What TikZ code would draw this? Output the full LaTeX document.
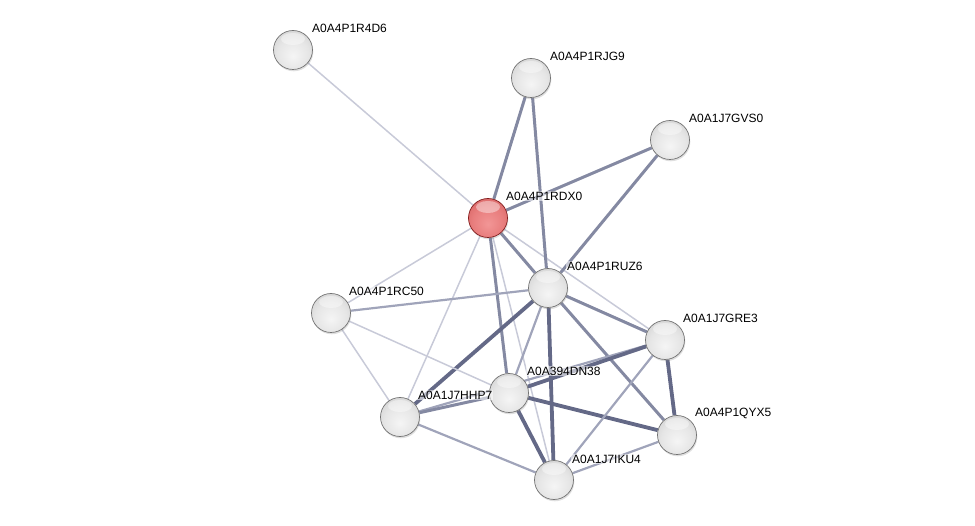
\documentclass[tikz,border=0pt]{standalone}
\usepackage{fontspec}
\setmainfont{Liberation Sans}
\usetikzlibrary{shadows,backgrounds}
\definecolor{rA}{RGB}{242,150,150}
\definecolor{rB}{RGB}{232,125,125}
\definecolor{rC}{RGB}{215,100,100}
\definecolor{rD}{RGB}{200,85,85}
\definecolor{rE}{RGB}{175,60,60}
\definecolor{rF}{RGB}{150,45,45}
\definecolor{rRim}{RGB}{130,30,30}
\pgfdeclareradialshading{sball}{\pgfpoint{0bp}{-8bp}}{color(0bp)=(white!96!black); color(20bp)=(white!90!black); color(34bp)=(white!82!black); color(42bp)=(white!76!black); color(48bp)=(white!65!black); color(55bp)=(white!55!black)}
\pgfdeclareradialshading{rball}{\pgfpoint{0bp}{-8bp}}{color(0bp)=(rA); color(20bp)=(rB); color(34bp)=(rC); color(42bp)=(rD); color(48bp)=(rE); color(55bp)=(rF)}
\definecolor{eA}{RGB}{200,202,216}
\definecolor{eB}{RGB}{160,164,186}
\definecolor{eC}{RGB}{132,137,162}
\definecolor{eD}{RGB}{100,105,135}
\tikzset{
  ball/.style={circle, minimum size=39pt, inner sep=0pt, shading=sball, draw=white!45!black, line width=0.7pt,
    drop shadow={opacity=0.25, shadow xshift=0.8pt, shadow yshift=-1.8pt},
    path picture={\fill[white, opacity=0.4] ([yshift=11pt]path picture bounding box.center) ellipse (12pt and 6pt);}},
  redball/.style={ball, shading=rball, draw=rRim},
  lbl/.style={anchor=west, inner sep=1pt, font=\fontsize{12pt}{14pt}\selectfont, fill=white, fill opacity=0.55, text opacity=1},
  eA/.style={draw=eA, line width=1.5pt},
  eB/.style={draw=eB, line width=2.2pt},
  eC/.style={draw=eC, line width=3pt},
  eD/.style={draw=eD, line width=3.8pt}
}
\begin{document}
\begin{tikzpicture}[x=1pt,y=-1pt]
\useasboundingbox (0,0) rectangle (975,526);
% nodes
\node[ball] (r4d6) at (293,50) {};
\node[ball] (rjg9) at (531,78) {};
\node[ball] (gvs0) at (670,140) {};
\node[redball] (rdx0) at (488,218) {};
\node[ball] (ruz6) at (548,288) {};
\node[ball] (rc50) at (331,313) {};
\node[ball] (gre3) at (665,340) {};
\node[ball] (dn38) at (509,393) {};
\node[ball] (hhp7) at (400,417) {};
\node[ball] (qyx5) at (677,435) {};
\node[ball] (iku4) at (554,480) {};
% edges
\begin{scope}[on background layer]
\path[eA] (rdx0) -- (r4d6);
\path[eC] (rdx0) -- (rjg9);
\path[eC] (rdx0) -- (gvs0);
\path[eC] (rdx0) -- (ruz6);
\path[eA] (rdx0) -- (rc50);
\path[eA] (rdx0) -- (hhp7);
\path[eC] (rdx0) -- (dn38);
\path[eA] (rdx0) -- (iku4);
\path[eA] (rdx0) -- (gre3);
\path[eC] (rjg9) -- (ruz6);
\path[eC] (gvs0) -- (ruz6);
\path[eB] (ruz6) -- (rc50);
\path[eD] (ruz6) -- (hhp7);
\path[eB] (ruz6) -- (dn38);
\path[eD] (ruz6) -- (iku4);
\path[eC] (ruz6) -- (gre3);
\path[eC] (ruz6) -- (qyx5);
\path[eA] (rc50) -- (hhp7);
\path[eA] (rc50) -- (dn38);
\path[eB] (hhp7) -- (gre3);
\path[eC] (dn38) -- (hhp7);
\path[eD] (dn38) -- (gre3);
\path[eD] (dn38) -- (qyx5);
\path[eD] (dn38) -- (iku4);
\path[eB] (hhp7) -- (iku4);
\path[eD] (gre3) -- (qyx5);
\path[eB] (gre3) -- (iku4);
\path[eB] (qyx5) -- (iku4);
\end{scope}
% labels
\node[lbl] (l1) at (311,28) {A0A4P1R4D6};
\node[lbl] (l2) at (549,56) {A0A4P1RJG9};
\node[lbl] (l3) at (688,118) {A0A1J7GVS0};
\node[lbl] (l4) at (505,196) {A0A4P1RDX0};
\node[lbl] (l5) at (566,266) {A0A4P1RUZ6};
\node[lbl] (l6) at (348,291) {A0A4P1RC50};
\node[lbl] (l7) at (682,318) {A0A1J7GRE3};
\node[lbl] (l8) at (526,371) {A0A394DN38};
\node[lbl] (l9) at (417,395) {A0A1J7HHP7};
\node[lbl] (l10) at (694,413) {A0A4P1QYX5};
\node[lbl] (l11) at (571,459) {A0A1J7IKU4};
\end{tikzpicture}
\end{document}
